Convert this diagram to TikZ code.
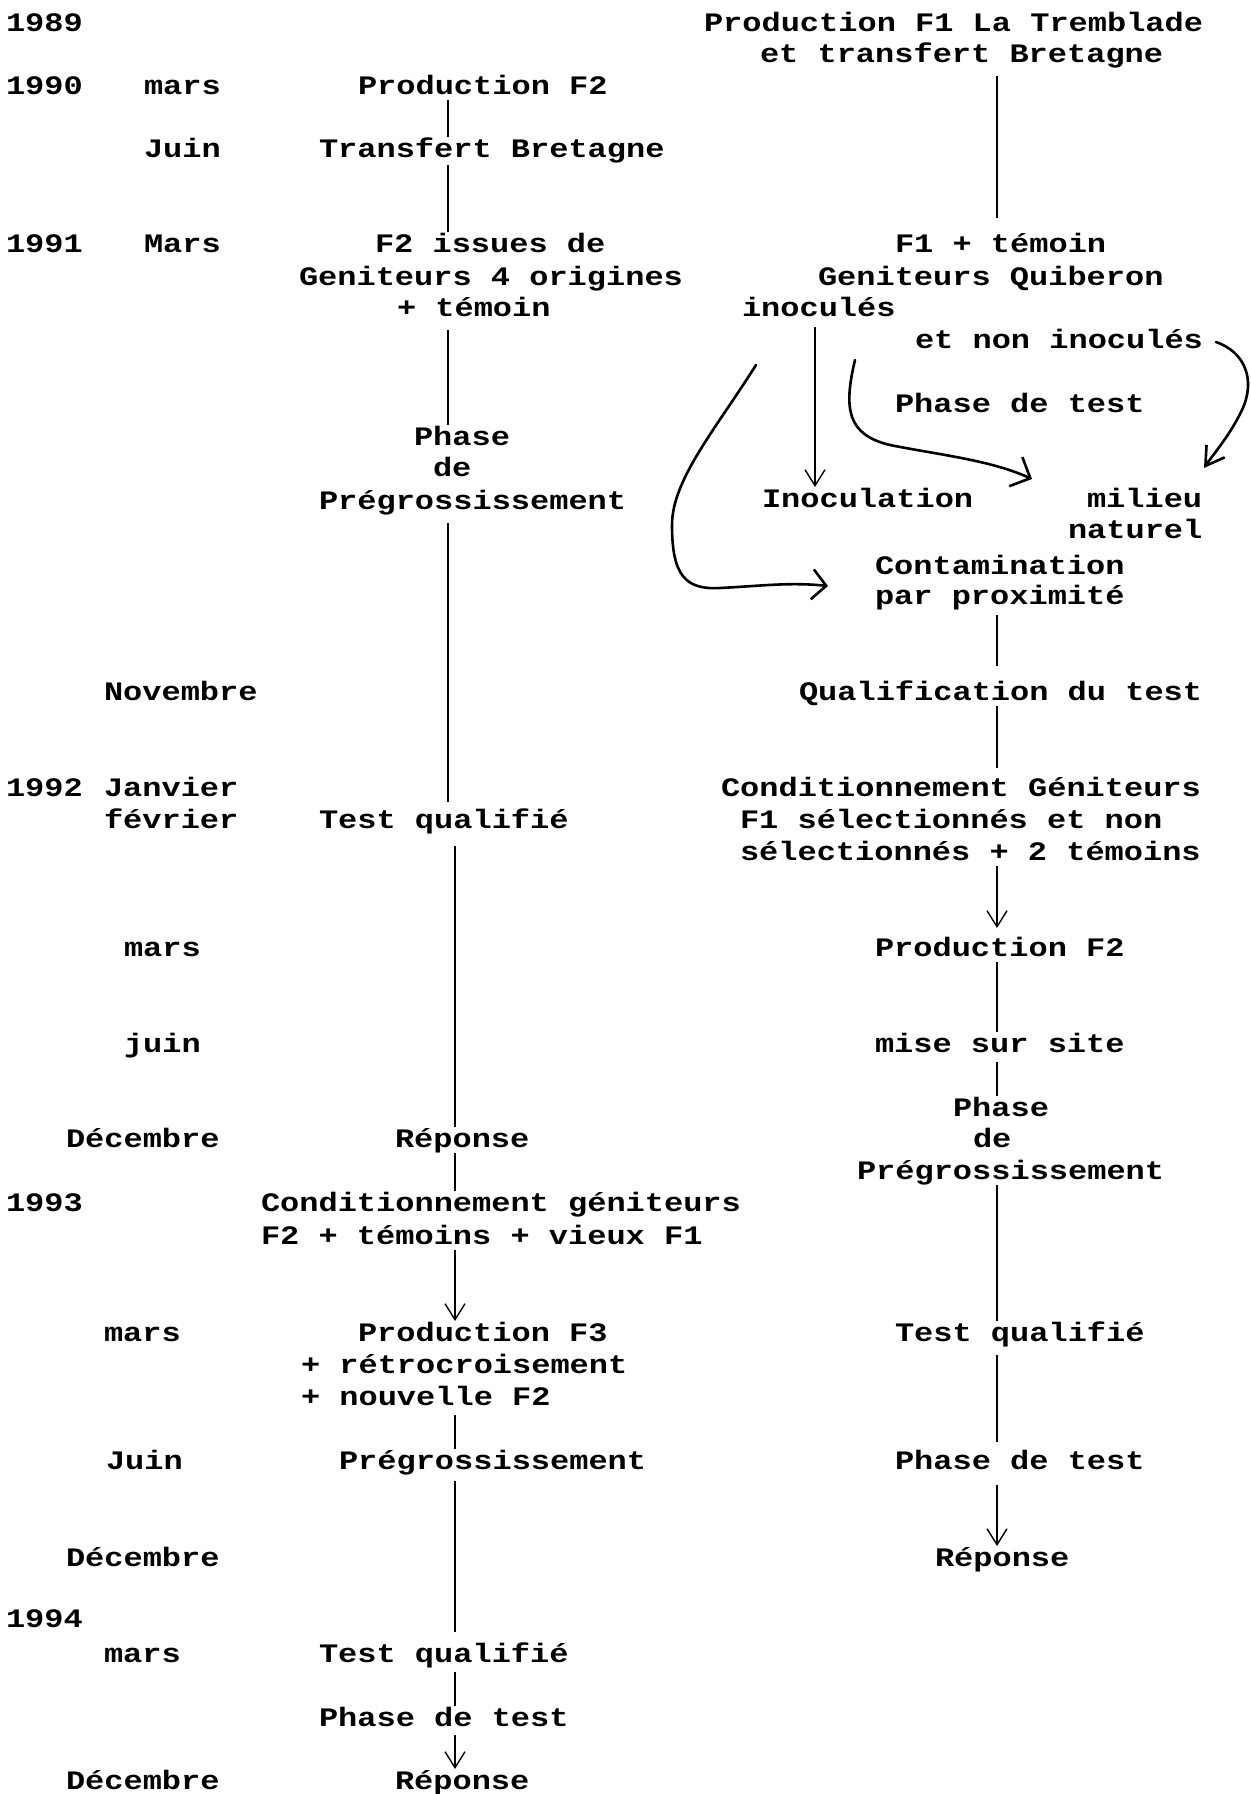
\documentclass[tikz,border=0pt]{standalone}
\usepackage{fontspec}
\newfontfamily\tw{Liberation Mono}[FakeStretch=1.2]
\usetikzlibrary{arrows.meta}
\begin{document}
\begin{tikzpicture}[x=0.5pt,y=-0.5pt,
  txt/.style={inner sep=0pt, outer sep=0pt, text height=10pt, text depth=3pt, anchor=base west,
    font={\fontsize{13.33pt}{16pt}\tw\bfseries}},
  conn/.style={line width=0.7pt, black},
  arr/.style={conn, -{Straight Barb[length=8pt,width=10pt]}},
  handcurve/.style={line width=1.3pt, line cap=round, line join=round}]
\fill[white] (0,0) rectangle (1250,1794);
\useasboundingbox (0,0) rectangle (1250,1794);

% years
\node[txt] (y1989) at (6,31) {1989};
\node[txt] (y1990) at (6,94) {1990};
\node[txt] (y1991) at (6,252) {1991};
\node[txt] (y1992) at (6,796) {1992};
\node[txt] (y1993) at (6,1211) {1993};
\node[txt] (y1994) at (6,1627) {1994};

% months
\node[txt] (m1) at (144,94) {mars};
\node[txt] (m2) at (144,157) {Juin};
\node[txt] (m3) at (144,252) {Mars};
\node[txt] (m4) at (104,700) {Novembre};
\node[txt] (m5) at (104,796) {Janvier};
\node[txt] (m6) at (104,828) {février};
\node[txt] (m7) at (124,956) {mars};
\node[txt] (m8) at (124,1052) {juin};
\node[txt] (m9) at (66,1147) {Décembre};
\node[txt] (m10) at (104,1341) {mars};
\node[txt] (m11) at (106,1469) {Juin};
\node[txt] (m12) at (66,1566) {Décembre};
\node[txt] (m13) at (104,1662) {mars};
\node[txt] (m14) at (66,1789) {Décembre};

% left column
\node[txt] (L1) at (358,94) {Production F2};
\node[txt] (L2) at (319,157) {Transfert Bretagne};
\node[txt] (L3a) at (375,252) {F2 issues de};
\node[txt] (L3b) at (299,285) {Geniteurs 4 origines};
\node[txt] (L3c) at (397,316) {+ témoin};
\node[txt] (L4a) at (414,445) {Phase};
\node[txt] (L4b) at (433,476) {de};
\node[txt] (L4c) at (319,509) {Prégrossissement};
\node[txt] (L5) at (319,828) {Test qualifié};
\node[txt] (L6) at (395,1147) {Réponse};
\node[txt] (L7a) at (261,1211) {Conditionnement géniteurs};
\node[txt] (L7b) at (261,1244) {F2 + témoins + vieux F1};
\node[txt] (L8a) at (358,1341) {Production F3};
\node[txt] (L8b) at (301,1373) {+ rétrocroisement};
\node[txt] (L8c) at (301,1405) {+ nouvelle F2};
\node[txt] (L9) at (339,1469) {Prégrossissement};
\node[txt] (L10) at (319,1662) {Test qualifié};
\node[txt] (L11) at (319,1726) {Phase de test};
\node[txt] (L12) at (395,1789) {Réponse};

% right column
\node[txt] (R1a) at (704,31) {Production F1 La Tremblade};
\node[txt] (R1b) at (760,62) {et transfert Bretagne};
\node[txt] (R2a) at (895,252) {F1 + témoin};
\node[txt] (R2b) at (818,285) {Geniteurs Quiberon};
\node[txt] (R2c) at (742,316) {inoculés};
\node[txt] (R3) at (915,348) {et non inoculés};
\node[txt] (R4) at (895,412) {Phase de test};
\node[txt] (R5) at (762,507) {Inoculation};
\node[txt] (R6a) at (1087,507) {milieu};
\node[txt] (R6b) at (1068,538) {naturel};
\node[txt] (R7a) at (875,574) {Contamination};
\node[txt] (R7b) at (875,604) {par proximité};
\node[txt] (R8) at (799,700) {Qualification du test};
\node[txt] (R9a) at (721,796) {Conditionnement Géniteurs};
\node[txt] (R9b) at (740,828) {F1 sélectionnés et non};
\node[txt] (R9c) at (740,860) {sélectionnés + 2 témoins};
\node[txt] (R10) at (875,956) {Production F2};
\node[txt] (R11) at (875,1052) {mise sur site};
\node[txt] (R12a) at (953,1116) {Phase};
\node[txt] (R12b) at (973,1147) {de};
\node[txt] (R12c) at (857,1179) {Prégrossissement};
\node[txt] (R13) at (895,1341) {Test qualifié};
\node[txt] (R14) at (895,1469) {Phase de test};
\node[txt] (R15) at (935,1566) {Réponse};

% axes of the vertical connectors
\coordinate (axLa) at (448,0);
\coordinate (axLb) at (455,0);
\coordinate (axR) at (997,0);
\coordinate (axI) at (815,0);

% left column connectors
\draw[conn] (axLa |- L1.south) -- (axLa |- L2.north);
\draw[conn, shorten <=1pt] (axLa |- L2.south) -- (axLa |- L3a.north);
\draw[conn, shorten <=4pt] (axLa |- L3c.south) -- (axLa |- L4a.north);
\draw[conn, shorten <=4pt, shorten >=3pt] (axLa |- L4c.south) -- (axLa |- L5.north);
\draw[conn, shorten <=6pt] (axLb |- L5.south) -- (axLb |- L6.north);
\draw[conn] (axLb |- L6.south) -- (axLb |- L7a.north);
\draw[arr] (axLb |- L7b.south) -- (axLb |- L8a.north);
\draw[conn, shorten <=2pt] (axLb |- L8c.south) -- (axLb |- L9.north);
\draw[conn, shorten <=3pt, shorten >=5pt] (axLb |- L9.south) -- (axLb |- L10.north);
\draw[conn, shorten <=2pt] (axLb |- L10.south) -- (axLb |- L11.north);
\draw[arr, shorten <=1.5pt] (axLb |- L11.south) -- (axLb |- L12.north);

% right column connectors
\draw[conn, shorten <=4pt, shorten >=7pt] (axR |- R1b.south) -- (axR |- R2a.north);
\draw[arr, shorten <=2.5pt] (axI |- R2c.south) -- (axI |- R5.north);
\draw[conn, shorten <=2.5pt, shorten >=7pt] (axR |- R7b.south) -- (axR |- R8.north);
\draw[conn, shorten >=4pt] (axR |- R8.south) -- (axR |- R9a.north);
\draw[arr, shorten >=4pt] (axR |- R9c.south) -- (axR |- R10.north);
\draw[conn] (axR |- R10.south) -- (axR |- R11.north);
\draw[conn, shorten <=2pt] (axR |- R11.south) -- (axR |- R12a.north);
\draw[conn] (axR |- R12c.south) -- (axR |- R13.north);
\draw[conn, shorten <=4pt, shorten >=3.5pt] (axR |- R13.south) -- (axR |- R14.north);
\draw[arr, shorten <=5pt] (axR |- R14.south) -- (axR |- R15.north);

% hand-drawn curved arrows
\coordinate (cAs) at (756,365);
\coordinate (cAe) at (828,586);
\coordinate (cBs) at (855,360);
\coordinate (cBe) at (1032,479);
\coordinate (cCs) at (1216,342);
\coordinate (cCe) at (1204,468);
\draw[handcurve, -{Straight Barb[length=7pt,width=15pt]}] (cAs) .. controls (715,430) and (672,480) .. (672,525)
  .. controls (672,575) and (685,590) .. (720,588) .. controls (760,586) and (790,582) .. (cAe);
\draw[handcurve, -{Straight Barb[length=8pt,width=16pt]}] (cBs) .. controls (843,410) and (848,435) .. (890,445)
  .. controls (940,455) and (990,460) .. (cBe);
\draw[handcurve, -{Straight Barb[length=9pt,width=11pt]}] (cCs) .. controls (1245,352) and (1256,380) .. (1242,410)
  .. controls (1230,435) and (1215,452) .. (cCe);
\end{tikzpicture}
\end{document}
